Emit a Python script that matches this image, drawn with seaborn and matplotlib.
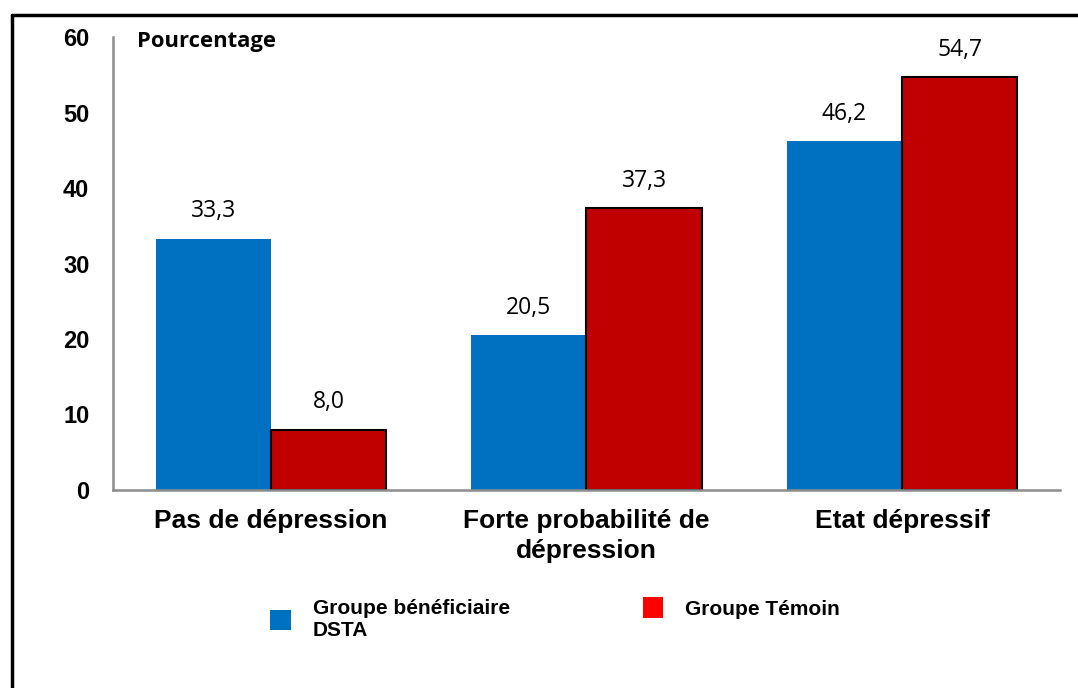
import matplotlib
matplotlib.use("Agg")
import matplotlib.pyplot as plt
import seaborn as sns
import pandas as pd
from matplotlib.patches import Patch
from matplotlib.lines import Line2D

categories = ["Pas de dépression", "Forte probabilité de\ndépression", "Etat dépressif"]
groups = ["Groupe bénéficiaire\nDSTA", "Groupe Témoin"]
beneficiaire = [33.3, 20.5, 46.2]
temoin = [8.0, 37.3, 54.7]
yticks = [0, 10, 20, 30, 40, 50, 60]

df = pd.DataFrame({
    "cat": categories * 2,
    "grp": [groups[0]] * 3 + [groups[1]] * 3,
    "val": beneficiaire + temoin,
})

sns.set_theme(style="white")
plt.rcParams["font.family"] = ["Liberation Sans", "DejaVu Sans"]
plt.rcParams["text.color"] = "black"
plt.rcParams["xtick.color"] = "black"
plt.rcParams["ytick.color"] = "black"
plt.rcParams["axes.labelcolor"] = "black"

BLUE = "#0070C0"
RED = "#C00000"

fig = plt.figure(figsize=(10.78, 6.88), dpi=100)
ax = fig.add_axes([0.1048, 0.2878, 0.8785, 0.6584])

sns.barplot(data=df, x="cat", y="val", hue="grp", order=categories, hue_order=groups,
            palette=[BLUE, RED], width=0.73, gap=0, saturation=1, ax=ax, legend=False)

for c in ax.containers:
    for p in c:
        if p.get_facecolor()[0] > 0.5:
            p.set_edgecolor("black")
            p.set_linewidth(1.5)
        else:
            p.set_linewidth(0)
    ax.bar_label(c, labels=[f"{v:.1f}".replace(".", ",") for v in c.datavalues],
                 padding=11, fontsize=16.5, color="black", family=["Open Sans", "DejaVu Sans"])

ax.set_ylim(0, 60)
ax.set_xlim(-0.5, 2.5)
ax.set_yticks(yticks)
ax.set_yticklabels([str(t) for t in yticks], fontsize=17, fontweight="bold", color="black")
ax.tick_params(axis="y", length=0, pad=17)
ax.tick_params(axis="x", length=0, pad=14)
for lbl in ax.get_xticklabels():
    lbl.set_fontsize(19)
    lbl.set_fontweight("bold")
    lbl.set_color("black")
    lbl.set_linespacing(1.3)
ax.set_xlabel("")
ax.set_ylabel("")

for s in ["top", "right"]:
    ax.spines[s].set_visible(False)
for s in ["left", "bottom"]:
    ax.spines[s].set_color("#8c8c8c")
    ax.spines[s].set_linewidth(1.8)

ax.text(0.025, 0.989, "Pourcentage", transform=ax.transAxes, fontsize=15.8, color="black",
        fontweight="bold", family=["Open Sans", "DejaVu Sans"], ha="left", va="center")

legend_kw = dict(loc="upper left", frameon=False, borderpad=0, borderaxespad=0,
                 prop={"family": ["Liberation Sans", "DejaVu Sans"], "weight": "bold", "size": 15},
                 handlelength=1.0, handleheight=1.1, handletextpad=1.05, labelcolor="black")
fig.legend([Patch(facecolor=BLUE, edgecolor="none")], [groups[0]],
           bbox_to_anchor=(270 / 1078, 1 - 599 / 688), handleheight=1.15, **{k: v for k, v in legend_kw.items() if k != "handleheight"})
fig.legend([Patch(facecolor="#FF0000", edgecolor="none")], [groups[1]],
           bbox_to_anchor=(643 / 1078, 1 - 597 / 688), handlelength=0.95, handleheight=1.2,
           **{k: v for k, v in legend_kw.items() if k not in ("handleheight", "handlelength")})

# frame lines (top and left)
fig.add_artist(Line2D([12 / 1078, 1], [1 - 15 / 688, 1 - 15 / 688], color="black", lw=2.5,
                      transform=fig.transFigure))
fig.add_artist(Line2D([12 / 1078, 12 / 1078], [0, 1 - 15 / 688], color="black", lw=2.5,
                      transform=fig.transFigure))

fig.savefig("out.png", dpi=100)
